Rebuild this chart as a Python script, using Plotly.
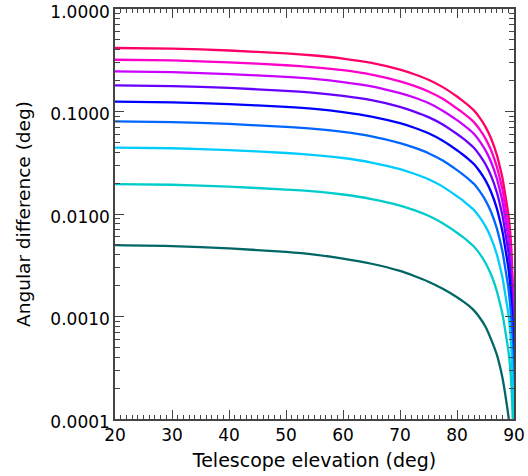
import plotly.graph_objects as go

elevation = [20, 30, 40, 50, 55, 60, 65, 70, 72.5, 75, 77.5, 80, 81, 82, 83, 84, 85, 86, 87, 87.5,
             88, 88.5, 89, 89.25, 89.5, 89.8, 89.95, 89.99]

curve1 = [0.417, 0.411, 0.394, 0.369, 0.352, 0.329, 0.298, 0.256, 0.231, 0.204, 0.173, 0.140, 0.127, 0.115,
          0.102, 0.0867, 0.0709, 0.0542, 0.0375, 0.0292, 0.0221, 0.0150, 0.0100, 0.00751, 0.00500, 0.00200,
          0.000500, 0.000100]
curve2 = [0.320, 0.315, 0.302, 0.283, 0.270, 0.253, 0.229, 0.197, 0.178, 0.157, 0.133, 0.107, 0.0976, 0.0880,
          0.0784, 0.0666, 0.0544, 0.0416, 0.0288, 0.0224, 0.0170, 0.0115, 0.00768, 0.00576, 0.00384, 0.00154,
          0.000384, 0.0000768]
curve3 = [0.246, 0.242, 0.232, 0.218, 0.208, 0.194, 0.176, 0.151, 0.137, 0.121, 0.102, 0.0824, 0.0750, 0.0677,
          0.0603, 0.0512, 0.0418, 0.0320, 0.0221, 0.0172, 0.0130, 0.00886, 0.00590, 0.00443, 0.00295, 0.00118,
          0.000295, 0.0000590]
curve4 = [0.180, 0.177, 0.170, 0.159, 0.152, 0.142, 0.129, 0.111, 0.0999, 0.0882, 0.0747, 0.0603, 0.0549, 0.0495,
          0.0441, 0.0374, 0.0306, 0.0234, 0.0162, 0.0126, 0.00954, 0.00648, 0.00432, 0.00324, 0.00216, 0.000864,
          0.000216, 0.0000432]
curve5 = [0.125, 0.123, 0.118, 0.111, 0.106, 0.0988, 0.0894, 0.0769, 0.0694, 0.0613, 0.0519, 0.0419, 0.0381, 0.0344,
          0.0306, 0.0260, 0.0213, 0.0163, 0.0113, 0.00875, 0.00663, 0.00450, 0.00300, 0.00225, 0.00150, 0.000600,
          0.000150, 0.0000300]
curve6 = [0.0800, 0.0788, 0.0756, 0.0708, 0.0676, 0.0632, 0.0572, 0.0492, 0.0444, 0.0392, 0.0332, 0.0268, 0.0244,
          0.0220, 0.0196, 0.0166, 0.0136, 0.0104, 0.00720, 0.00560, 0.00424, 0.00288, 0.00192, 0.00144, 0.000960,
          0.000384, 0.0000960, 0.0000192]
curve7 = [0.0445, 0.0438, 0.0421, 0.0394, 0.0376, 0.0352, 0.0318, 0.0274, 0.0247, 0.0218, 0.0185, 0.0149, 0.0136,
          0.0122, 0.0109, 0.00926, 0.00757, 0.00579, 0.00401, 0.00312, 0.00236, 0.00160, 0.00107, 0.000801,
          0.000534, 0.000214, 0.0000534, 0.0000107]
curve8 = [0.0196, 0.0193, 0.0185, 0.0173, 0.0166, 0.0155, 0.0140, 0.0121, 0.0109, 0.00960, 0.00813, 0.00657,
          0.00598, 0.00539, 0.00480, 0.00408, 0.00333, 0.00255, 0.00176, 0.00137, 0.00104, 0.000706, 0.000470,
          0.000353, 0.000235, 0.0000941, 0.0000235, 0.0000047]
curve9 = [0.00496, 0.00486, 0.00461, 0.00427, 0.00402, 0.00367, 0.00327, 0.00278, 0.00248, 0.00218, 0.00186,
          0.00154, 0.00141, 0.00128, 0.00114, 0.000972, 0.000794, 0.000595, 0.000422, 0.000332, 0.000248,
          0.000169, 0.000109, 0.0000818, 0.0000546, 0.0000218, 0.0000050, 0.0000010]

series = [curve1, curve2, curve3, curve4, curve5, curve6, curve7, curve8, curve9]
colors = ["#ff0066", "#ff00cc", "#cc00ff", "#6600ff", "#0000ff",
          "#0066ff", "#00ccff", "#00cccc", "#006666"]

y_tickvals = [0.0001, 0.001, 0.01, 0.1, 1.0]
y_ticktext = ["0.0001", "0.0010", "0.0100", "0.1000", "1.0000"]
x_tickvals = [20, 30, 40, 50, 60, 70, 80, 90]

y_minor = [m * 10 ** e for e in range(-4, 0) for m in range(2, 10)]

fig = go.Figure()
for vals, col in zip(series, colors):
    fig.add_trace(go.Scatter(x=elevation, y=vals, mode="lines",
                             line=dict(color=col, width=2.3, shape="spline", smoothing=0.6),
                             showlegend=False, hoverinfo="skip"))

font_family = "DejaVu Sans"
axis_col = "#444"
fig.update_layout(
    width=528, height=476,
    margin=dict(l=115, r=14, t=9, b=57),
    paper_bgcolor="white", plot_bgcolor="white",
    font=dict(family=font_family, size=17, color="black"),
    xaxis=dict(range=[20, 90], tickmode="array", tickvals=x_tickvals, automargin=False,
               ticks="inside", ticklen=9, tickwidth=1, tickcolor=axis_col,
               showline=True, linecolor=axis_col, linewidth=1.5, mirror="ticks",
               showgrid=False, zeroline=False, ticklabeloverflow="allow",
               minor=dict(dtick=1, ticks="inside", ticklen=4, tickcolor=axis_col, showgrid=False),
               title=dict(text="Telescope elevation (deg)", font=dict(size=19), standoff=10),
               tickfont=dict(size=17)),
    yaxis=dict(type="log", range=[-4.0005, 0.0005], tickmode="array", tickvals=y_tickvals,
               automargin=False, ticktext=y_ticktext, ticklabeloverflow="allow", ticklabelshift=3,
               ticks="inside", ticklen=9, tickwidth=1, tickcolor=axis_col,
               showline=True, linecolor=axis_col, linewidth=1.5, mirror="ticks",
               showgrid=False, zeroline=False,
               minor=dict(tickvals=y_minor, ticks="inside", ticklen=5, tickcolor=axis_col, showgrid=False),
               title=dict(text="Angular difference (deg)", font=dict(size=18.5), standoff=15),
               tickfont=dict(size=17)),
)

fig.write_html("out.html")
